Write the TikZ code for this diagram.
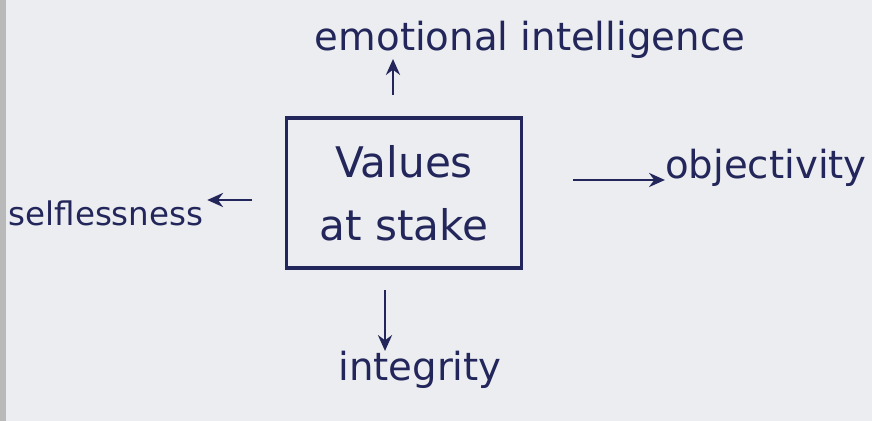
\documentclass[tikz,border=0pt]{standalone}
\usepackage{fontspec}
\setmainfont{DejaVu Sans}
\definecolor{ink}{RGB}{35,38,90}
\definecolor{paper}{RGB}{236,237,240}
\usetikzlibrary{arrows.meta}
\tikzset{
  lbl/.style={text=ink, font=\fontsize{22}{26}\selectfont, inner sep=0pt},
  arr/.style={draw=ink, line width=1.6pt, -{Stealth[length=9pt,width=8pt]}},
  box/.style={draw=ink, line width=1.8pt, minimum width=4.7cm, minimum height=3cm, align=center, text=ink, font=\fontsize{24}{36}\selectfont}
}
\begin{document}
\begin{tikzpicture}[x=0.02cm,y=-0.02cm]
\useasboundingbox (0,0) rectangle (872,421);
\fill[paper] (0,0) rectangle (872,421);
\fill[gray!55] (0,0) rectangle (6,421);
\node[box] (box) at (404,193) {Values\\at stake};
\node[lbl] (emo) at (530,40) {emotional intelligence};
\node[lbl] (obj) at (766,168) {objectivity};
\node[lbl, font=\fontsize{18.5}{22}\selectfont] (sel) at (106,213) {selflessness};
\node[lbl] (int) at (420,370) {integrity};
\coordinate (ua) at (393,95);
\coordinate (ra) at (573,180);
\coordinate (la) at (252,200);
\coordinate (da) at (385,290);
\draw[arr] (ua) -- (emo.south -| ua);
\draw[arr] (ra) -- (obj.west |- ra);
\draw[arr] (la) -- ([xshift=2pt]sel.east |- la);
\draw[arr] (da) -- (int.north -| da);
\end{tikzpicture}
\end{document}
